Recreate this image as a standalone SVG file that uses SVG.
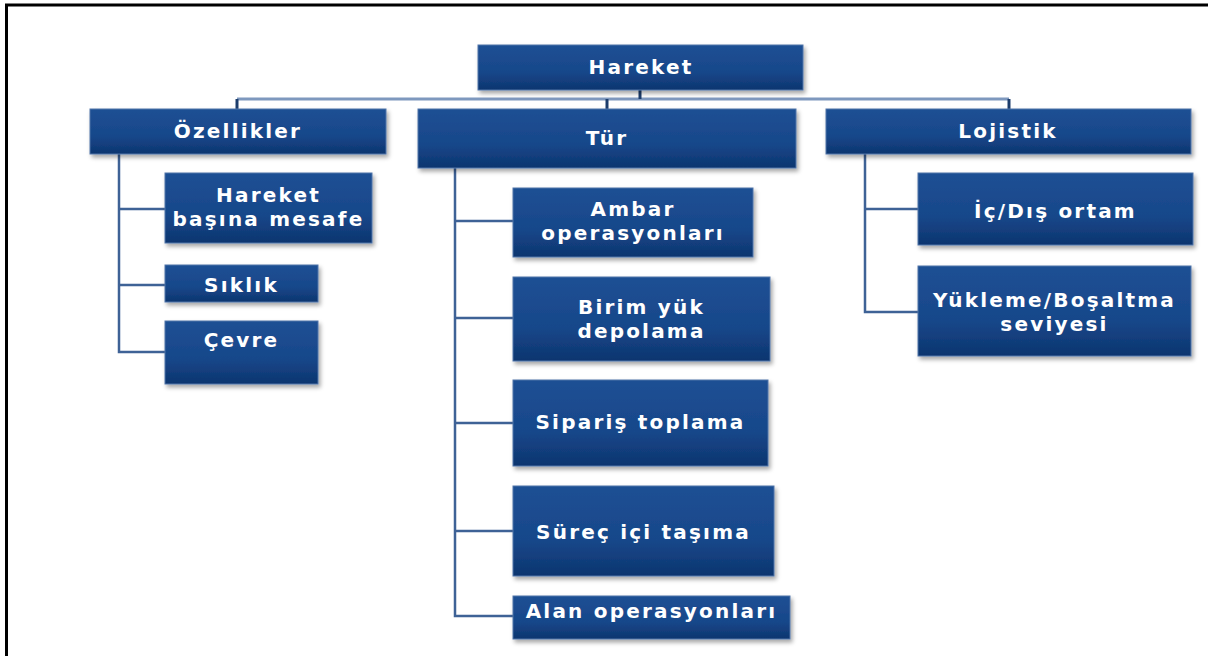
<svg xmlns="http://www.w3.org/2000/svg" width="1208" height="656" viewBox="0 0 1208 656">
  <style>
    .box { fill: url(#boxFill); stroke: #4F74A8; stroke-width: 1; filter: url(#shadow); }
    .lbl { font-family: "DejaVu Sans", "Liberation Sans", sans-serif; font-weight: bold; font-size: 20px; letter-spacing: 2.2px; fill: #FFFFFF; text-anchor: middle; }
    .bus { stroke: #7E98BE; stroke-width: 3; fill: none; }
    .stub { stroke: #1C3D6C; stroke-width: 3; fill: none; }
    .branch { stroke: #3E6296; stroke-width: 2.5; fill: none; }
    .frame { stroke: #000000; stroke-width: 3; fill: none; }
  </style>
  <defs>
    <linearGradient id="boxFill" x1="0" y1="0" x2="0" y2="1">
      <stop offset="0" stop-color="#1F5094"/>
      <stop offset="0.6" stop-color="#17478A"/>
      <stop offset="1" stop-color="#0D356F"/>
    </linearGradient>
    <filter id="shadow" x="-10%" y="-20%" width="125%" height="150%">
      <feDropShadow dx="2" dy="3" stdDeviation="2" flood-color="#000000" flood-opacity="0.35"/>
    </filter>
  </defs>

  <rect width="1208" height="656" fill="#FFFFFF"/>

  <!-- page frame: top and left edges only -->
  <path class="frame" d="M6.5 656 V5 H1208"/>

  <!-- connectors -->
  <g id="connectors">
    <!-- top bus -->
    <path class="bus" d="M237 99 H1009"/>
    <path class="stub" d="M640 90 V99"/>
    <path class="stub" d="M237 99 V109"/>
    <path class="stub" d="M607 99 V109"/>
    <path class="stub" d="M1009 99 V109"/>
    <!-- Özellikler branch -->
    <path class="branch" d="M119 154 V352 H165"/>
    <path class="branch" d="M119 209 H165"/>
    <path class="branch" d="M119 285 H165"/>
    <!-- Tür branch -->
    <path class="branch" d="M455 168 V616 H513"/>
    <path class="branch" d="M455 221 H513"/>
    <path class="branch" d="M455 318 H513"/>
    <path class="branch" d="M455 423 H513"/>
    <path class="branch" d="M455 531 H513"/>
    <!-- Lojistik branch -->
    <path class="branch" d="M865 154 V312 H918"/>
    <path class="branch" d="M865 209 H918"/>
  </g>

  <g id="hareket">
    <rect class="box" x="478" y="45" width="325" height="45"/>
    <text class="lbl" x="641" y="74">Hareket</text>
  </g>

  <g id="ozellikler">
    <rect class="box" x="90" y="109" width="296" height="45"/>
    <text class="lbl" x="238" y="138">Özellikler</text>
  </g>
  <g id="tur">
    <rect class="box" x="418" y="109" width="378" height="59"/>
    <text class="lbl" x="607" y="145">Tür</text>
  </g>
  <g id="lojistik">
    <rect class="box" x="826" y="109" width="365" height="45"/>
    <text class="lbl" x="1008" y="138">Lojistik</text>
  </g>

  <g id="hareket-basina-mesafe">
    <rect class="box" x="165" y="173" width="207" height="70"/>
    <text class="lbl" x="268.5" y="202">Hareket</text>
    <text class="lbl" x="268.5" y="226">başına mesafe</text>
  </g>
  <g id="siklik">
    <rect class="box" x="165" y="265" width="153" height="37"/>
    <text class="lbl" x="241.5" y="292">Sıklık</text>
  </g>
  <g id="cevre">
    <rect class="box" x="165" y="321" width="153" height="63"/>
    <text class="lbl" x="241.5" y="347">Çevre</text>
  </g>

  <g id="ambar-operasyonlari">
    <rect class="box" x="513" y="188" width="240" height="69"/>
    <text class="lbl" x="633" y="216">Ambar</text>
    <text class="lbl" x="633" y="240">operasyonları</text>
  </g>
  <g id="birim-yuk-depolama">
    <rect class="box" x="513" y="277" width="257" height="84"/>
    <text class="lbl" x="641.5" y="314">Birim yük</text>
    <text class="lbl" x="641.5" y="338">depolama</text>
  </g>
  <g id="siparis-toplama">
    <rect class="box" x="513" y="380" width="255" height="86"/>
    <text class="lbl" x="640.5" y="429">Sipariş toplama</text>
  </g>
  <g id="surec-ici-tasima">
    <rect class="box" x="513" y="486" width="261" height="90"/>
    <text class="lbl" x="643.5" y="539">Süreç içi taşıma</text>
  </g>
  <g id="alan-operasyonlari">
    <rect class="box" x="513" y="596" width="277" height="43"/>
    <text class="lbl" x="651.5" y="618">Alan operasyonları</text>
  </g>

  <g id="ic-dis-ortam">
    <rect class="box" x="918" y="173" width="275" height="72"/>
    <text class="lbl" x="1055.5" y="218">İç/Dış ortam</text>
  </g>
  <g id="yukleme-bosaltma-seviyesi">
    <rect class="box" x="918" y="266" width="273" height="90"/>
    <text class="lbl" x="1054.5" y="307">Yükleme/Boşaltma</text>
    <text class="lbl" x="1054.5" y="331">seviyesi</text>
  </g>
</svg>
